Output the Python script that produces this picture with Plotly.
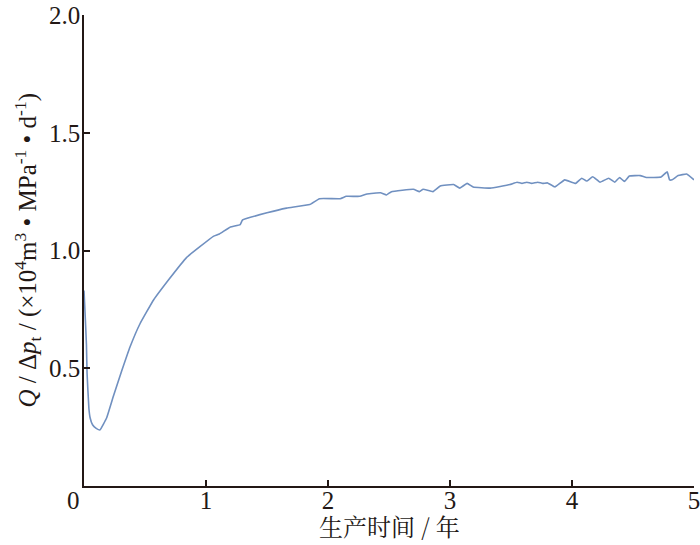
import plotly.graph_objects as go

# production time (years)
time_yr = [0.0, 0.01, 0.02, 0.025, 0.04, 0.05, 0.07, 0.1, 0.13, 0.186, 0.24, 0.31, 0.377,
           0.46, 0.57, 0.70, 0.84, 0.95, 1.06, 1.11, 1.20, 1.28, 1.30, 1.50, 1.66, 1.85,
           1.93, 2.10, 2.15, 2.26, 2.32, 2.43, 2.48, 2.52, 2.70, 2.75, 2.78, 2.86, 2.92,
           3.03, 3.08, 3.14, 3.19, 3.33, 3.49, 3.55, 3.59, 3.63, 3.67, 3.72, 3.76, 3.80,
           3.86, 3.94, 4.03, 4.08, 4.12, 4.17, 4.23, 4.30, 4.35, 4.39, 4.43, 4.47, 4.56,
           4.61, 4.73, 4.78, 4.80, 4.82, 4.87, 4.94, 5.0]
# Q / Δp_t (×10^4 m^3·MPa^-1·d^-1)
q_dp = [0.83, 0.72, 0.60, 0.48, 0.33, 0.29, 0.26, 0.245, 0.238, 0.29, 0.38, 0.49, 0.59,
        0.69, 0.79, 0.88, 0.97, 1.016, 1.06, 1.07, 1.10, 1.11, 1.13, 1.16, 1.18, 1.195,
        1.22, 1.22, 1.23, 1.23, 1.24, 1.245, 1.236, 1.25, 1.26, 1.25, 1.26, 1.25, 1.274,
        1.28, 1.265, 1.285, 1.27, 1.265, 1.28, 1.29, 1.285, 1.29, 1.285, 1.29, 1.285, 1.287,
        1.27, 1.30, 1.285, 1.307, 1.295, 1.313, 1.29, 1.307, 1.29, 1.31, 1.293, 1.316, 1.318,
        1.31, 1.312, 1.334, 1.30, 1.30, 1.318, 1.325, 1.30]

x_ticks = [1, 2, 3, 4, 5]
y_ticks = [0.5, 1.0, 1.5, 2.0]
y_tick_text = ["0.5", "1.0", "1.5", "2.0"]

serif = "Liberation Serif, Times New Roman, serif"
cjk = "Noto Serif CJK SC, Noto Sans CJK SC, sans-serif"
ink = "#231815"

fig = go.Figure()
fig.add_trace(go.Scatter(x=time_yr, y=q_dp, mode="lines",
                         line=dict(color="#7090c0", width=1.6, shape="spline", smoothing=0.3),
                         showlegend=False))

fig.update_layout(
    width=700, height=545,
    margin=dict(l=84, r=6, t=15, b=59, autoexpand=False),
    paper_bgcolor="white", plot_bgcolor="white",
    font=dict(family=serif, size=25, color=ink),
    xaxis=dict(range=[0, 5], tickvals=x_ticks, ticktext=[str(v) for v in x_ticks],
               ticks="inside", ticklen=6, tickwidth=1.5, tickcolor=ink,
               ticklabelstandoff=-9, ticklabeloverflow="allow",
               showline=True, linecolor=ink, linewidth=1.5, automargin=False,
               showgrid=False, zeroline=False),
    yaxis=dict(range=[0, 2.0], tickvals=y_ticks, ticktext=y_tick_text,
               ticks="inside", ticklen=6, tickwidth=1.5, tickcolor=ink,
               ticklabelstandoff=-3, ticklabeloverflow="allow",
               showline=True, linecolor=ink, linewidth=1.5, automargin=False,
               showgrid=False, zeroline=False),
)
fig.add_annotation(text="0", xref="paper", yref="paper", x=0, xshift=-11, y=0, yshift=1,
                   xanchor="center", yanchor="top", showarrow=False,
                   font=dict(family=serif, size=25, color=ink))
fig.add_annotation(text="生产时间 / 年", xref="paper", yref="paper", x=0.5, y=0,
                   yshift=-20, xanchor="center", yanchor="top", showarrow=False,
                   font=dict(family=cjk, size=24, color=ink))
fig.add_annotation(text="<i>Q</i> / Δ<i>p</i><sub>t</sub> / (×10<sup>4</sup>m<sup>3</sup> • MPa<sup>-1</sup> • d<sup>-1</sup>)",
                   xref="paper", yref="paper", x=0, xshift=-57, y=0.5,
                   xanchor="center", yanchor="middle", textangle=-90, showarrow=False,
                   font=dict(family=serif, size=25, color=ink))

fig.write_html("out.html", config={"displayModeBar": False},
               post_script="document.body.style.margin='0px';")
